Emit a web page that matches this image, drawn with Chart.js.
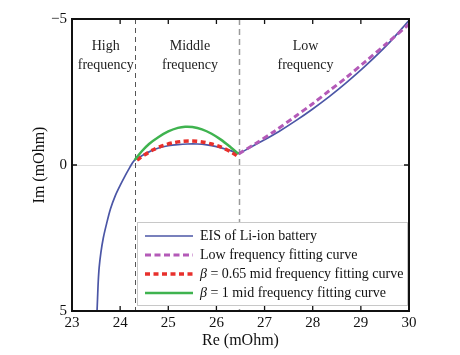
<!DOCTYPE html>
<html>
<head>
<meta charset="utf-8">
<script src="https://cdn.jsdelivr.net/npm/chart.js@4.4.0/dist/chart.umd.min.js"></script>
<style>
html,body{margin:0;padding:0;background:#fff;}
#wrap{width:460px;height:355px;position:relative;}
</style>
</head>
<body>
<div id="wrap"><canvas id="c"></canvas></div>
<script>
// ---- data ----
const xTicks = [23, 24, 25, 26, 27, 28, 29, 30];
const yTicks = [-5, 0, 5];
const boundaries = [24.3, 26.46];

const eisRe = [23.52, 23.53, 23.545, 23.565, 23.6, 23.65, 23.72, 23.8, 23.9, 24.0, 24.1, 24.2, 24.3,
  24.45, 24.6, 24.8, 25.0, 25.2, 25.4, 25.6, 25.8, 26.0, 26.2, 26.35, 26.46,
  26.7, 26.95, 27.3, 27.65, 28.0, 28.35, 28.7, 29.1, 29.55, 30.0];
const eisIm = [5.0, 4.6, 4.0, 3.5, 3.0, 2.5, 2.0, 1.5, 1.05, 0.7, 0.38, 0.08, -0.17,
  -0.32, -0.45, -0.58, -0.66, -0.70, -0.72, -0.72, -0.69, -0.63, -0.54, -0.46, -0.40,
  -0.6, -0.82, -1.15, -1.52, -1.92, -2.35, -2.82, -3.4, -4.12, -4.95];

const lowRe = [26.46, 26.8, 27.2, 27.65, 28.0, 28.35, 28.7, 29.1, 29.55, 30.0];
const lowIm = [-0.38, -0.72, -1.15, -1.68, -2.1, -2.55, -3.0, -3.55, -4.18, -4.82];

const midARe = [24.35, 24.5, 24.7, 24.9, 25.1, 25.3, 25.5, 25.7, 25.9, 26.1, 26.3, 26.42];
const midAIm = [-0.17, -0.34, -0.53, -0.67, -0.76, -0.81, -0.82, -0.79, -0.72, -0.61, -0.45, -0.32];

const midBRe = [24.3, 24.45, 24.6, 24.8, 25.0, 25.2, 25.35, 25.5, 25.7, 25.9, 26.1, 26.3, 26.46];
const midBIm = [-0.17, -0.47, -0.72, -0.96, -1.15, -1.27, -1.31, -1.30, -1.22, -1.07, -0.86, -0.6, -0.38];

const regionLabels = [
  {x: 23.7, lines: ['High', 'frequency']},
  {x: 25.45, lines: ['Middle', 'frequency']},
  {x: 27.85, lines: ['Low', 'frequency']}
];
const legendLabels = [
  [{t: 'EIS of Li-ion battery'}],
  [{t: 'Low frequency fitting curve'}],
  [{t: 'β', i: true}, {t: ' = 0.65 mid frequency fitting curve'}],
  [{t: 'β', i: true}, {t: ' = 1 mid frequency fitting curve'}]
];

const pts = (xs, ys) => xs.map((x, k) => ({x: x, y: ys[k]}));
const SERIF = "'Liberation Serif', 'Times New Roman', serif";

const datasets = [
  {data: pts(eisRe, eisIm), borderColor: '#4b56a6', borderWidth: 1.7, order: 4},
  {data: pts(lowRe, lowIm), borderColor: '#b45ab8', borderWidth: 3, borderDash: [6, 3.5], order: 3},
  {data: pts(midARe, midAIm), borderColor: '#e8302c', borderWidth: 3.5, borderDash: [5, 3.5], order: 2},
  {data: pts(midBRe, midBIm), borderColor: '#3fb34f', borderWidth: 2.5, order: 1}
].map(d => Object.assign({showLine: true, pointRadius: 0, tension: 0.3, fill: false}, d));

const decor = {
  id: 'decor',
  beforeDatasetsDraw(chart) {
    const {ctx, chartArea: a, scales: {x}} = chart;
    ctx.save();
    boundaries.forEach((b, k) => {
      const px = Math.round(x.getPixelForValue(b)) + 0.5;
      ctx.beginPath();
      ctx.strokeStyle = k === 0 ? '#555' : '#9a9a9a';
      ctx.lineWidth = k === 0 ? 1 : 1.5;
      ctx.setLineDash(k === 0 ? [5, 4] : [6, 4]);
      ctx.moveTo(px, a.top);
      ctx.lineTo(px, a.bottom);
      ctx.stroke();
    });
    ctx.setLineDash([]);
    ctx.fillStyle = '#222';
    ctx.font = '14px ' + SERIF;
    ctx.textAlign = 'center';
    ctx.textBaseline = 'middle';
    const y = chart.scales.y;
    regionLabels.forEach(r => {
      const px = x.getPixelForValue(r.x);
      r.lines.forEach((l, i) => ctx.fillText(l, px, y.getPixelForValue(-4.05 + i * 0.65)));
    });
    ctx.restore();
  },
  afterDraw(chart) {
    const {ctx, chartArea: a, scales: {x, y}} = chart;
    ctx.save();
    // legend
    const lx = a.left + 65, ly = a.top + 203, lw = a.right - 2 - lx, lh = a.bottom - 6 - ly;
    ctx.fillStyle = '#fff';
    ctx.fillRect(lx, ly, lw, lh);
    ctx.strokeStyle = '#c8c8c8';
    ctx.lineWidth = 1;
    ctx.strokeRect(lx + 0.5, ly + 0.5, lw, lh);
    legendLabels.forEach((parts, i) => {
      const ds = chart.data.datasets[i];
      const cy = ly + 14 + i * 19;
      ctx.beginPath();
      ctx.strokeStyle = ds.borderColor;
      ctx.lineWidth = ds.borderWidth;
      ctx.setLineDash(ds.borderDash || []);
      ctx.moveTo(lx + 8, cy);
      ctx.lineTo(lx + 56, cy);
      ctx.stroke();
      ctx.setLineDash([]);
      let tx = lx + 63;
      ctx.fillStyle = '#111';
      ctx.textAlign = 'left';
      ctx.textBaseline = 'middle';
      parts.forEach(p => {
        ctx.font = (p.i ? 'italic ' : '') + '14px ' + SERIF;
        ctx.fillText(p.t, tx, cy);
        tx += ctx.measureText(p.t).width;
      });
    });
    // frame
    ctx.strokeStyle = '#111';
    ctx.lineWidth = 2;
    ctx.strokeRect(a.left, a.top, a.right - a.left, a.bottom - a.top);
    // inward ticks
    ctx.lineWidth = 1.3;
    ctx.beginPath();
    x.ticks.forEach(t => {
      const px = x.getPixelForValue(t.value);
      ctx.moveTo(px, a.bottom); ctx.lineTo(px, a.bottom - 5);
      ctx.moveTo(px, a.top); ctx.lineTo(px, a.top + 5);
    });
    y.ticks.forEach(t => {
      const py = y.getPixelForValue(t.value);
      ctx.moveTo(a.left, py); ctx.lineTo(a.left + 5, py);
      ctx.moveTo(a.right, py); ctx.lineTo(a.right - 5, py);
    });
    ctx.stroke();
    ctx.restore();
  }
};

new Chart(document.getElementById('c'), {
  type: 'scatter',
  data: {datasets: datasets},
  options: {
    responsive: true,
    maintainAspectRatio: false,
    animation: false,
    layout: {padding: {left: 0, right: 51, top: 19, bottom: 0}},
    plugins: {legend: {display: false}, tooltip: {enabled: false}},
    scales: {
      x: {
        type: 'linear', min: 23, max: 30,
        afterBuildTicks: s => { s.ticks = xTicks.map(v => ({value: v})); },
        afterFit: s => { s.height = 44; },
        grid: {display: false, drawTicks: false},
        border: {display: false},
        ticks: {padding: 3, color: '#111', font: {family: SERIF, size: 15}},
        title: {display: true, text: 'Re (mOhm)', color: '#111', font: {family: SERIF, size: 16}, padding: {top: 0, bottom: 5}}
      },
      y: {
        type: 'linear', min: -5, max: 5, reverse: true,
        afterBuildTicks: s => { s.ticks = yTicks.map(v => ({value: v})); },
        afterFit: s => { s.width = 72; },
        grid: {drawTicks: false, lineWidth: 1, color: c => (c.tick && c.tick.value === 0) ? '#dedede' : 'rgba(0,0,0,0)'},
        border: {display: false},
        ticks: {padding: 5, color: '#111', font: {family: SERIF, size: 15},
          callback: v => v < 0 ? '\u2212' + Math.abs(v) : String(v)},
        title: {display: true, text: 'Im (mOhm)', color: '#111', font: {family: SERIF, size: 16}, padding: {top: 30, bottom: 0}}
      }
    }
  },
  plugins: [decor]
});
</script>
</body>
</html>
